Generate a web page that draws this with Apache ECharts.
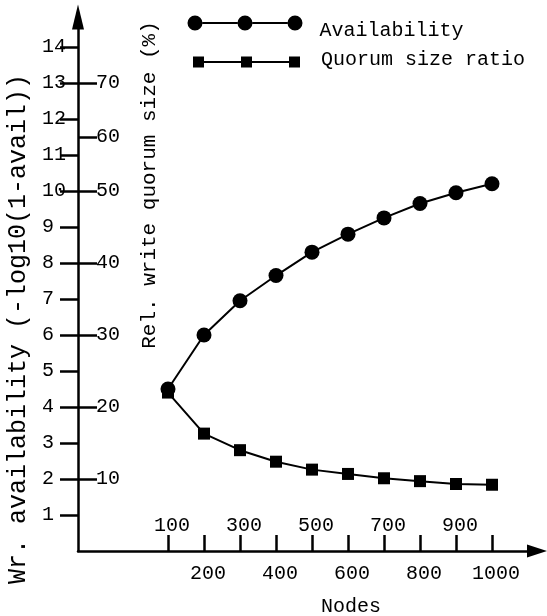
<!DOCTYPE html>
<html>
<head>
<meta charset="utf-8">
<script src="https://cdn.jsdelivr.net/npm/echarts@6/dist/echarts.min.js"></script>
<style>
  html, body { margin: 0; padding: 0; background: #fff; }
  #chart { width: 547px; height: 616px; }
</style>
</head>
<body>
<div id="chart"></div>
<script>
// data
const nodes = [100, 200, 300, 400, 500, 600, 700, 800, 900, 1000];
const availability = [4.5, 6.0, 6.95, 7.65, 8.3, 8.8, 9.25, 9.65, 9.95, 10.2];
const quorumRatio = [22, 16.3, 14.0, 12.4, 11.3, 10.7, 10.1, 9.7, 9.3, 9.2];

const availTicks = [1, 2, 3, 4, 5, 6, 7, 8, 9, 10, 11, 12, 13, 14];
const quorumTickPos = [10, 20, 30, 40, 50, 57.5, 65];
const quorumTickLabels = ['10', '20', '30', '40', '50', '60', '70'];
const nodeTicksUpper = [100, 300, 500, 700, 900];
const nodeTicksLower = [200, 400, 600, 800, 1000];

const FONT = 'Liberation Mono';
const INK = '#000';
const Y_MAX = 14.83;

// legend icons: three markers joined by a line; the zero-length segment only
// stretches the icon box so the label sits where it does in the figure
const circlesIcon = 'path://M0,7.5 A7.5,7.5 0 1 1 15,7.5 A7.5,7.5 0 1 1 0,7.5 Z '
  + 'M50,7.5 A7.5,7.5 0 1 1 65,7.5 A7.5,7.5 0 1 1 50,7.5 Z '
  + 'M100,7.5 A7.5,7.5 0 1 1 115,7.5 A7.5,7.5 0 1 1 100,7.5 Z '
  + 'M15,6.5 L50,6.5 L50,8.5 L15,8.5 Z M65,6.5 L100,6.5 L100,8.5 L65,8.5 Z '
  + 'M0,31 L0.01,31';
const squaresIcon = 'path://M0,0 L0.01,0 '
  + 'M0,5 L11,5 L11,16 L0,16 Z M48,5 L59,5 L59,16 L48,16 Z '
  + 'M96,5 L107,5 L107,16 L96,16 Z '
  + 'M11,9.5 L48,9.5 L48,11.5 L11,11.5 Z M59,9.5 L96,9.5 L96,11.5 L59,11.5 Z';

const chart = echarts.init(document.getElementById('chart'));

const txt = { fontFamily: FONT, fontSize: 20, color: INK };
const plain = (v) => String(v);

chart.setOption({
  animation: false,
  backgroundColor: '#fff',
  textStyle: { fontFamily: FONT },
  grid: { left: 78, right: 10, top: 17, bottom: 65 },
  legend: [
    {
      data: [{ name: 'Availability', icon: circlesIcon }],
      left: 187.5, top: 15.5, padding: 0,
      itemWidth: 115, itemHeight: 31,
      itemStyle: { borderWidth: 0 },
      textStyle: Object.assign({}, txt, { padding: [0, 0, 0, 12] }),
      selectedMode: false
    },
    {
      data: [{ name: 'Quorum size ratio', icon: squaresIcon }],
      left: 193, top: 49.5, padding: 0,
      itemWidth: 107, itemHeight: 16,
      itemStyle: { borderWidth: 0 },
      textStyle: Object.assign({}, txt, { padding: [0, 0, 0, 16] }),
      selectedMode: false
    }
  ],
  xAxis: [
    {
      type: 'value', min: -150, max: 1125, position: 'bottom',
      axisLine: { show: true, onZero: false, symbol: ['none', 'triangle'], symbolSize: [13, 20], lineStyle: { color: INK, width: 2.5 } },
      axisTick: { show: true, inside: true, length: 16, customValues: nodes, lineStyle: { color: INK, width: 2.5 } },
      axisLabel: Object.assign({}, txt, { inside: true, margin: 15, customValues: nodeTicksUpper, padding: [0, 0, 0, 8], formatter: plain }),
      splitLine: { show: false }
    },
    {
      type: 'value', min: -150, max: 1125, position: 'bottom',
      axisLine: { show: false, onZero: false },
      axisTick: { show: false },
      axisLabel: Object.assign({}, txt, { margin: 13, customValues: nodeTicksLower, padding: [0, 0, 0, 8], formatter: plain }),
      splitLine: { show: false }
    }
  ],
  yAxis: [
    {
      type: 'value', min: 0, max: Y_MAX, position: 'left',
      axisLine: { show: true, onZero: false, symbol: ['none', 'triangle'], symbolSize: [12, 25], lineStyle: { color: INK, width: 2.5 } },
      axisTick: { show: true, length: 18, customValues: availTicks, lineStyle: { color: INK, width: 2.5 } },
      axisLabel: Object.assign({}, txt, { align: 'left', margin: 36, customValues: availTicks, padding: [0, 0, 12, 0], formatter: plain }),
      splitLine: { show: false }
    },
    {
      type: 'value', min: 0, max: Y_MAX * 5, position: 'left',
      axisLine: { show: false, onZero: false },
      axisTick: { show: true, inside: true, length: 19, customValues: quorumTickPos, lineStyle: { color: INK, width: 2.5 } },
      axisLabel: Object.assign({}, txt, {
        inside: true, align: 'left', margin: 18, customValues: quorumTickPos, padding: [0, 0, 12, 0],
        formatter: (v) => quorumTickLabels[quorumTickPos.indexOf(v)]
      }),
      splitLine: { show: false }
    }
  ],
  graphic: [
    { type: 'text', x: 18, y: 329, rotation: Math.PI / 2,
      style: { text: 'Wr. availability (-log10(1-avail))', font: '25px "Liberation Mono"', fill: INK, align: 'center', verticalAlign: 'middle' } },
    { type: 'text', x: 149, y: 185, rotation: Math.PI / 2,
      style: { text: 'Rel. write quorum size (%)', font: '21px "Liberation Mono"', fill: INK, align: 'center', verticalAlign: 'middle' } },
    { type: 'text', x: 351, y: 607,
      style: { text: 'Nodes', font: '20px "Liberation Mono"', fill: INK, align: 'center', verticalAlign: 'middle' } }
  ],
  series: [
    {
      name: 'Availability', type: 'line', xAxisIndex: 0, yAxisIndex: 0,
      data: nodes.map((n, i) => [n, availability[i]]),
      symbol: 'circle', symbolSize: 15,
      lineStyle: { color: INK, width: 2 },
      itemStyle: { color: INK, borderWidth: 0 },
      z: 3
    },
    {
      name: 'Quorum size ratio', type: 'line', xAxisIndex: 0, yAxisIndex: 1,
      data: nodes.map((n, i) => [n, quorumRatio[i]]),
      symbol: 'rect', symbolSize: 12,
      lineStyle: { color: INK, width: 2 },
      itemStyle: { color: INK, borderWidth: 0 },
      z: 2
    }
  ]
});
</script>
</body>
</html>
